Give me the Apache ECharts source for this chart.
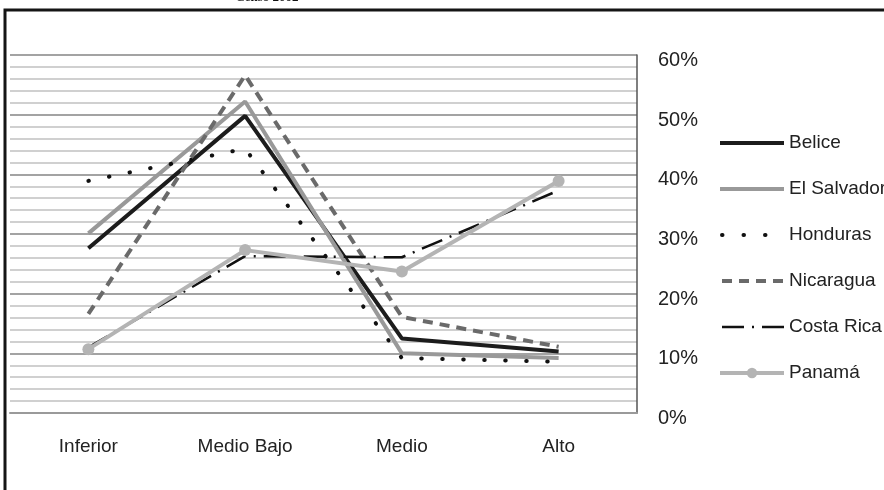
<!DOCTYPE html>
<html>
<head>
<meta charset="utf-8">
<script src="https://cdn.jsdelivr.net/npm/echarts@6/dist/echarts.min.js"></script>
<style>
html,body{margin:0;padding:0;background:#fff;}
#chart{width:884px;height:490px;}
</style>
</head>
<body>
<div id="chart"></div>
<script>
var titleText = 'Censo 2002';
var categories = ['Inferior', 'Medio Bajo', 'Medio', 'Alto'];
var belice = [27.6, 49.8, 12.5, 10.3];
var elSalvador = [30.1, 52.2, 10.0, 9.2];
var honduras = [38.9, 44.3, 9.2, 8.6];
var nicaragua = [16.6, 56.6, 16.1, 11.1];
var costaRica = [11.0, 26.3, 26.1, 37.3];
var panama = [10.7, 27.3, 23.7, 38.9];
var yTicks = [0, 10, 20, 30, 40, 50, 60];

var FONT = "'Liberation Sans', Arial, Helvetica, sans-serif";

var styles = {
  'Belice': { color: '#1c1c1c', width: 4, type: 'solid' },
  'El Salvador': { color: '#999999', width: 4, type: 'solid' },
  'Honduras': { color: '#111111', width: 4, type: [0.5, 20.5], cap: 'round' },
  'Nicaragua': { color: '#6a6a6a', width: 4, type: [10, 7] },
  'Costa Rica': { color: '#111111', width: 2.5, type: [22, 8, 2, 8] },
  'Panamá': { color: '#b4b4b4', width: 4, type: 'solid' }
};

function lineSeries(name, data, extra) {
  var style = styles[name];
  var s = {
    name: name,
    type: 'line',
    data: data,
    symbol: 'none',
    smooth: false,
    lineStyle: style,
    itemStyle: { color: style.color, opacity: 0 },
    emphasis: { disabled: true },
    animation: false
  };
  if (extra) { for (var k in extra) s[k] = extra[k]; }
  return s;
}

var legendNames = ['Belice', 'El Salvador', 'Honduras', 'Nicaragua', 'Costa Rica', 'Panamá'];

var chart = echarts.init(document.getElementById('chart'));
chart.setOption({
  backgroundColor: '#ffffff',
  animation: false,
  grid: { left: 10, right: 247, top: 55, bottom: 77, containLabel: false },
  graphic: [
    {
      type: 'rect',
      shape: { x: 5, y: 10, width: 1200, height: 1200 },
      style: { fill: 'none', stroke: '#151515', lineWidth: 3 },
      z: 100
    },
    {
      type: 'text',
      x: 267, y: 4,
      style: {
        text: titleText,
        font: "bold 13px 'Liberation Serif', 'Times New Roman', serif",
        fill: '#111',
        align: 'center',
        verticalAlign: 'bottom'
      }
    }
  ],
  legend: {
    orient: 'vertical',
    left: 718,
    top: 133,
    padding: 0,
    itemWidth: 64,
    itemHeight: 13,
    itemGap: 26,
    textStyle: { fontFamily: FONT, fontSize: 19, color: '#222', lineHeight: 20 },
    data: legendNames.map(function (n) {
      var st = styles[n];
      var ls = { width: st.width, type: st.type, color: st.color, cap: st.cap || 'butt' };
      if (n === 'Honduras') { ls.type = [0.5, 21]; ls.dashOffset = -2; }
      return { name: n, lineStyle: ls };
    })
  },
  xAxis: {
    type: 'category',
    data: categories,
    boundaryGap: true,
    axisLine: { show: true, lineStyle: { color: '#9a9a9a', width: 2 } },
    axisTick: { show: false },
    axisLabel: { fontFamily: FONT, fontSize: 19, color: '#222', margin: 24 },
    splitLine: { show: false }
  },
  yAxis: {
    type: 'value',
    position: 'right',
    min: 0,
    max: 60,
    interval: 10,
    axisLine: { show: true, lineStyle: { color: '#555', width: 1.5 } },
    axisTick: { show: false },
    axisLabel: {
      fontFamily: FONT, fontSize: 20, color: '#222', margin: 21,
      verticalAlign: 'top',
      lineHeight: 11,
      formatter: function (v) { return yTicks.indexOf(v) >= 0 ? v + '%' : ''; }
    },
    splitLine: { show: true, lineStyle: { color: '#a3a3a3', width: 2 } },
    minorTick: { show: false, splitNumber: 5 },
    minorSplitLine: { show: true, lineStyle: { color: '#d0d0d0', width: 2 } }
  },
  series: [
    lineSeries('Belice', belice),
    lineSeries('El Salvador', elSalvador),
    lineSeries('Honduras', honduras),
    lineSeries('Nicaragua', nicaragua),
    lineSeries('Costa Rica', costaRica),
    lineSeries('Panamá', panama,
      { symbol: 'circle', symbolSize: 12, showSymbol: true, itemStyle: { color: '#b4b4b4', opacity: 1 } })
  ]
});
</script>
</body>
</html>
